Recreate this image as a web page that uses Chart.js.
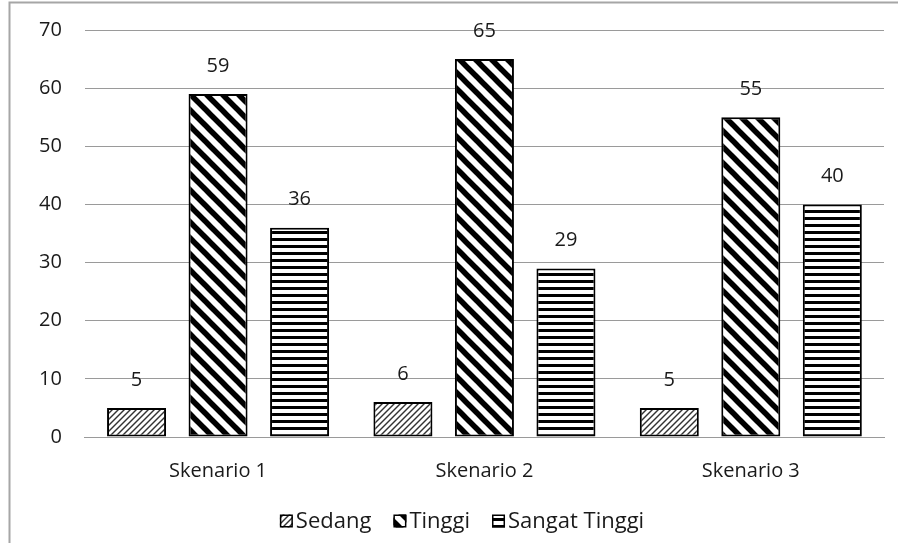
<!DOCTYPE html>
<html>
<head>
<meta charset="utf-8">
<script src="https://cdn.jsdelivr.net/npm/chart.js@4/dist/chart.umd.min.js"></script>
<style>
  html, body { margin: 0; padding: 0; background: #fff; }
  #wrap { width: 903px; height: 543px; position: relative; }
</style>
</head>
<body>
<div id="wrap"><canvas id="skenarioChart" width="903" height="543"></canvas></div>
<script>
const categories = ['Skenario 1', 'Skenario 2', 'Skenario 3'];
const seriesNames = ['Sedang', 'Tinggi', 'Sangat Tinggi'];
const sedang = [5, 6, 5];
const tinggi = [59, 65, 55];
const sangatTinggi = [36, 29, 40];
const yTicks = [0, 10, 20, 30, 40, 50, 60, 70];

const FONT = '"Open Sans", sans-serif';
const FSIZE = 20;
const TEXT = '#1a1a1a';

// fill patterns for the three series
function makePattern(kind) {
    const c = document.createElement('canvas');
    const g = c.getContext('2d');
    if (kind === 'thin') {
        c.width = 6; c.height = 6;
        g.fillStyle = '#fff'; g.fillRect(0, 0, 6, 6);
        g.strokeStyle = '#333'; g.lineWidth = 1.4;
        [-6, 0, 6, 12].forEach(k => {
            g.beginPath(); g.moveTo(k - 3, 9); g.lineTo(k + 9, -3); g.stroke();
        });
    } else if (kind === 'wide') {
        c.width = 16; c.height = 16;
        g.fillStyle = '#fff'; g.fillRect(0, 0, 16, 16);
        g.strokeStyle = '#000'; g.lineWidth = 5.5;
        [-16, 0, 16].forEach(k => {
            g.beginPath(); g.moveTo(k - 6, -6); g.lineTo(k + 22, 22); g.stroke();
        });
    } else {
        c.width = 8; c.height = 7;
        g.fillStyle = '#fff'; g.fillRect(0, 0, 8, 7);
        g.fillStyle = '#000'; g.fillRect(0, 0, 8, 3);
    }
    return g.createPattern(c, 'repeat');
}

const fills = [makePattern('thin'), makePattern('wide'), makePattern('horiz')];

// value labels above each bar
const valueLabels = {
    id: 'valueLabels',
    afterDatasetsDraw(chart) {
        const ctx = chart.ctx;
        ctx.save();
        ctx.font = FSIZE + 'px ' + FONT;
        ctx.fillStyle = TEXT;
        ctx.textAlign = 'center';
        ctx.textBaseline = 'middle';
        chart.data.datasets.forEach((ds, i) => {
            chart.getDatasetMeta(i).data.forEach((bar, j) => {
                ctx.fillText(String(ds.data[j]), bar.x, bar.y - 28);
            });
        });
        ctx.restore();
    }
};

// frame lines and bottom legend
const frameAndLegend = {
    id: 'frameAndLegend',
    beforeDraw(chart) {
        const ctx = chart.ctx;
        ctx.save();
        ctx.strokeStyle = '#a6a6a6';
        ctx.lineWidth = 2;
        ctx.beginPath();
        ctx.moveTo(9.5, 543);
        ctx.lineTo(9.5, 2.5);
        ctx.lineTo(898, 2.5);
        ctx.stroke();
        ctx.restore();
    },
    afterDraw(chart) {
        const ctx = chart.ctx;
        ctx.save();
        ctx.font = '22px ' + FONT;
        ctx.textBaseline = 'middle';
        const box = 13, gapText = 3, gapItem = 22, yMid = 521;
        const widths = seriesNames.map(n => box + gapText + ctx.measureText(n).width);
        const total = widths.reduce((a, b) => a + b, 0) + gapItem * (widths.length - 1);
        let x = 462 - total / 2;
        seriesNames.forEach((name, i) => {
            ctx.fillStyle = fills[i];
            ctx.fillRect(x, yMid - box / 2, box, box);
            ctx.strokeStyle = '#000';
            ctx.lineWidth = 1.5;
            ctx.strokeRect(x + 0.75, yMid - box / 2 + 0.75, box - 1.5, box - 1.5);
            ctx.fillStyle = TEXT;
            ctx.fillText(name, x + box + gapText, yMid + 1);
            x += widths[i] + gapItem;
        });
        ctx.restore();
    }
};

const series = [sedang, tinggi, sangatTinggi];

new Chart(document.getElementById('skenarioChart').getContext('2d'), {
    type: 'bar',
    data: {
        labels: categories,
        datasets: seriesNames.map((name, i) => ({
            label: name,
            data: series[i],
            backgroundColor: fills[i],
            borderColor: '#000',
            borderWidth: 2,
            borderSkipped: false,
            categoryPercentage: 0.918,
            barPercentage: 0.724
        }))
    },
    options: {
        responsive: false,
        animation: false,
        layout: { padding: { left: 16, right: 19, top: 30, bottom: 38 } },
        scales: {
            y: {
                min: 0,
                max: 70,
                afterBuildTicks(axis) { axis.ticks = yTicks.map(v => ({ value: v })); },
                // top label overflow is covered by the layout padding
                afterFit(axis) { axis.paddingTop = 0; },
                border: { display: false },
                grid: { color: '#9a9a9a', lineWidth: 1, drawTicks: false },
                ticks: { padding: 23, color: TEXT, font: { family: FONT, size: FSIZE } }
            },
            x: {
                border: { color: '#9a9a9a', width: 1 },
                grid: { display: false, drawTicks: false },
                ticks: { padding: 22, color: TEXT, font: { family: FONT, size: FSIZE } }
            }
        },
        plugins: {
            legend: { display: false },
            tooltip: { enabled: false }
        }
    },
    plugins: [valueLabels, frameAndLegend]
});
</script>
</body>
</html>
